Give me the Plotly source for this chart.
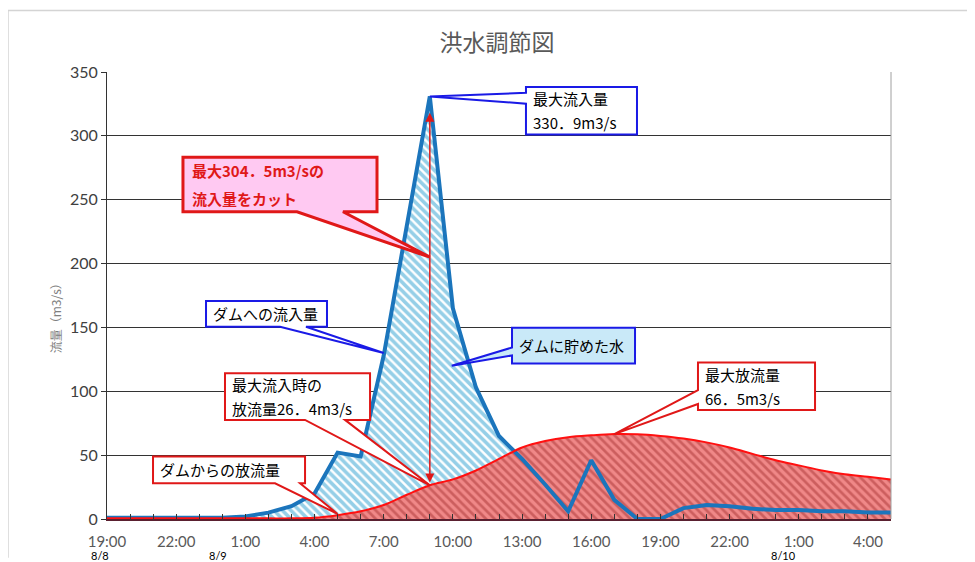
import plotly.graph_objects as go

FONT = "Noto Sans CJK JP, sans-serif"
NUM_FONT = "Lato, sans-serif"

# hours from 8/8 19:00
hours = list(range(35))
inflow = [1, 1, 1, 1, 1, 1, 2, 5, 10, 20, 52, 49, 128, 230, 330.9, 165, 103, 65,
          47, 27, 6, 46, 15, 0, 0, 8.5, 11, 10, 8, 7, 7, 6, 6, 5, 5]
outflow = [0.5, 0.5, 0.5, 0.5, 0.5, 0.5, 0.5, 0.5, 0.5, 1, 3, 6, 11, 19, 26.4, 31, 38,
           47, 56, 61, 64, 65.5, 66.5, 66.3, 65, 63, 60, 56, 51, 46, 42, 38, 35, 33, 31]
tick_hours = [0, 3, 6, 9, 12, 15, 18, 21, 24, 27, 30, 33]
tick_text = ["19:00", "22:00", "1:00", "4:00", "7:00", "10:00", "13:00", "16:00",
             "19:00", "22:00", "1:00", "4:00"]
dates = ["8/8", "8/9", "8/10"]

X_MAX, Y_MAX = 34, 350
# page offset of the plot div (body margin) and plot area in page pixels
OFF = 8
W, H = 975 - OFF, 562 - OFF
L, R, T, B = 107, 891, 72, 523


def px(x):
    return (x - L) / (R - L)


def py(y):
    return (B - y) / (B - T)


def d2px(h, v):
    return L + h / X_MAX * (R - L), B - v / Y_MAX * (B - T)


def callout(box, side, a, b, tip, color, fill, width=2):
    x0, y0, x1, y1 = box
    tx, ty = tip
    if side == "bottom":
        pts = [(x0, y0), (x1, y0), (x1, y1), (b, y1), (tx, ty), (a, y1), (x0, y1)]
    else:
        pts = [(x0, y0), (x1, y0), (x1, y1), (x0, y1), (x0, b), (tx, ty), (x0, a)]
    path = "M " + " L ".join(f"{px(x):.4f},{py(y):.4f}" for x, y in pts) + " Z"
    return dict(type="path", xref="paper", yref="paper", path=path, fillcolor=fill,
                line=dict(color=color, width=width), layer="above")


def box_text(box, lines, color="black", pad=5, size=15):
    x0, y0, x1, y1 = box
    h = (y1 - y0) / len(lines)
    return [dict(text=t, xref="paper", yref="paper", x=px(x0 + pad), y=py(y0 + (i + 0.5) * h),
                 xanchor="left", yanchor="middle", showarrow=False,
                 font=dict(family=FONT, size=size, color=color))
            for i, t in enumerate(lines)]


fig = go.Figure()
# stored water (blue hatch)
fig.add_trace(go.Scatter(
    x=hours, y=inflow, mode="lines", fill="tozeroy", line=dict(width=0, color="#1b75bc"),
    fillpattern=dict(shape="\\", fgcolor="#2c9fd0", bgcolor="white", size=6, solidity=0.6),
    showlegend=False, hoverinfo="skip",
))
# outflow area (red hatch, smooth)
fig.add_trace(go.Scatter(
    x=hours, y=outflow, mode="lines", fill="tozeroy",
    line=dict(color="rgba(0,0,0,0)", width=0, shape="spline"),
    fillpattern=dict(shape="\\", fgcolor="#a83434", bgcolor="#f08888", size=6, solidity=0.45),
    showlegend=False, hoverinfo="skip",
))
# inflow line
fig.add_trace(go.Scatter(
    x=hours, y=inflow, mode="lines", line=dict(color="#1b75bc", width=4),
    name="流入量", showlegend=False,
))
# outflow line
fig.add_trace(go.Scatter(
    x=hours, y=outflow, mode="lines", line=dict(color="#ff1010", width=2, shape="spline"),
    name="放流量", showlegend=False,
))

peak_i = inflow.index(max(inflow))
peak_px = d2px(hours[peak_i], inflow[peak_i])
cut_px = d2px(hours[peak_i], 205)
rel_px = d2px(hours[peak_i], outflow[peak_i])
store_px = d2px(14.95, 120)
in_px = d2px(12.0, 130)
out_px = d2px(10.0, 4)
omax_i = outflow.index(max(outflow))
omax_px = d2px(hours[omax_i], outflow[omax_i])

BLUE, RED = "#1a1ae6", "#e01818"
shapes = [
    callout((526, 87, 637, 135), "left", 93, 104, peak_px, BLUE, "white"),
    callout((183, 158, 377, 213), "bottom", 297, 343, cut_px, RED, "#ffc9f2", width=3),
    callout((206, 303, 327, 329), "bottom", 280, 306, in_px, BLUE, "white"),
    callout((512, 330, 635, 366), "left", 350, 358, store_px, BLUE, "#c9e9f8"),
    callout((225, 376, 370, 423), "bottom", 305, 345, rel_px, RED, "white"),
    callout((153, 460, 305, 487), "bottom", 275, 300, out_px, RED, "white"),
    callout((698, 365, 815, 413), "left", 393, 407, omax_px, RED, "white"),
    # right border and outer frame
    dict(type="line", xref="paper", yref="paper", x0=1, x1=1, y0=0, y1=1,
         line=dict(color="#a0a0a0", width=1)),
    dict(type="line", xref="paper", yref="paper", x0=px(8), x1=px(975), y0=py(10), y1=py(10),
         line=dict(color="#d4d4d4", width=1.5)),
    dict(type="line", xref="paper", yref="paper", x0=px(8), x1=px(8), y0=py(10), y1=py(562),
         line=dict(color="#d4d4d4", width=1.5)),
]

annotations = []
annotations += box_text((526, 87, 637, 135), ["最大流入量", "330．9m3/s"])
annotations += box_text((183, 158, 377, 213), ["<b>最大304．5m3/sの</b>", "<b>流入量をカット</b>"],
                        color="#e01818", pad=7)
annotations += box_text((206, 303, 327, 329), ["ダムへの流入量"])
annotations += box_text((512, 330, 635, 366), ["ダムに貯めた水"])
annotations += box_text((225, 376, 370, 423), ["最大流入時の", "放流量26．4m3/s"])
annotations += box_text((153, 460, 305, 487), ["ダムからの放流量"])
annotations += box_text((698, 365, 815, 413), ["最大放流量", "66．5m3/s"])

# cut amount double arrow
annotations.append(dict(
    x=hours[peak_i], y=318, ax=hours[peak_i], ay=outflow[peak_i] + 1, xref="x", yref="y",
    axref="x", ayref="y", text="", showarrow=True, arrowhead=2, arrowsize=1.2,
    arrowwidth=1.5, arrowcolor="#e01818", arrowside="end+start",
))
# y axis title
annotations.append(dict(
    text="流量（m3/s）", xref="paper", yref="paper", x=px(45), y=py(318), textangle=-90,
    showarrow=False, font=dict(family=FONT, size=12, color="#7f7f7f"),
))
# date labels
for d, xp in zip(dates, [100, 218, 783]):
    annotations.append(dict(
        text=d, xref="paper", yref="paper", x=px(xp), y=py(551), xanchor="center",
        yanchor="top", showarrow=False, font=dict(family=NUM_FONT, size=11, color="black"),
    ))

fig.update_layout(
    width=W, height=H,
    title=dict(text="洪水調節図", x=(497 - OFF) / W, y=1 - (43 - OFF) / H,
               xanchor="center", yanchor="middle",
               font=dict(family=FONT, size=23, color="#595959")),
    margin=dict(l=L - OFF, r=975 - R, t=T - OFF, b=562 - B),
    plot_bgcolor="white", paper_bgcolor="white",
    shapes=shapes, annotations=annotations,
)
fig.update_xaxes(
    range=[0, X_MAX], tickmode="array", tickvals=tick_hours, ticktext=tick_text,
    ticks="inside", ticklen=5, tickcolor="#333", showgrid=False, zeroline=False,
    showline=True, linecolor="#5a2030", linewidth=1.5, ticklabelstandoff=8,
    tickfont=dict(family=NUM_FONT, size=15, color="#595959"),
    minor=dict(tickmode="linear", tick0=0, dtick=1, ticks="inside", ticklen=5, tickcolor="#333"),
)
fig.update_yaxes(
    range=[0, Y_MAX], dtick=50, showgrid=True, gridcolor="#333", gridwidth=1,
    zeroline=False, showline=True, linecolor="#333", linewidth=1,
    ticks="outside", ticklen=5, tickcolor="#333",
    tickfont=dict(family=NUM_FONT, size=16, color="#404040"),
)

fig.write_html("out.html")
